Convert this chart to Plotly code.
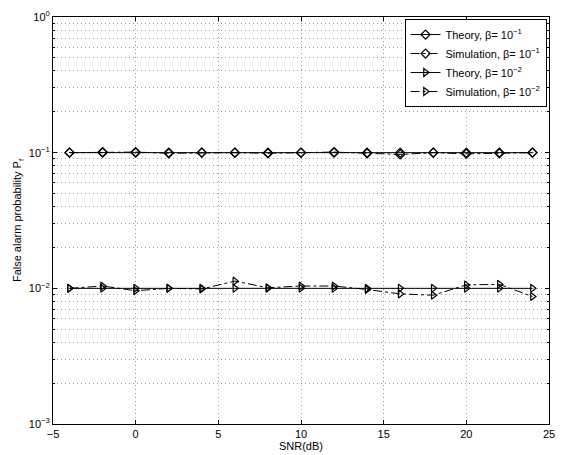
import plotly.graph_objects as go

snr = [-4, -2, 0, 2, 4, 6, 8, 10, 12, 14, 16, 18, 20, 22, 24]
theory_b1 = [0.1] * 15
sim_b1 = [0.100, 0.101, 0.101, 0.099, 0.100, 0.100, 0.099, 0.100, 0.101, 0.099, 0.097, 0.100, 0.098, 0.099, 0.100]
theory_b2 = [0.01] * 15
sim_b2 = [0.0100, 0.0104, 0.0096, 0.0100, 0.0099, 0.0113, 0.0101, 0.0104, 0.0104, 0.0098, 0.0091, 0.0089, 0.0106, 0.0107, 0.0087]

names = ["Theory, β= 10<sup>−1</sup>", "Simulation, β= 10<sup>−1</sup>",
         "Theory, β= 10<sup>−2</sup>", "Simulation, β= 10<sup>−2</sup>"]

fig = go.Figure()
specs = [(theory_b1, "solid", "diamond-open"), (sim_b1, "dashdot", "diamond-open"),
         (theory_b2, "solid", "triangle-right-open"), (sim_b2, "dashdot", "triangle-right-open")]
for (ys, dash, sym), nm in zip(specs, names):
    fig.add_trace(go.Scatter(x=snr, y=ys, name=nm, mode="lines+markers",
                             line=dict(color="black", width=1, dash=dash),
                             marker=dict(symbol=sym, size=7, color="black",
                                         line=dict(color="black", width=1.2))))

font = dict(family="Liberation Sans, Arial, sans-serif", size=11, color="black")
grid_dash = "1px,3px"
fig.update_layout(
    width=578, height=455, paper_bgcolor="white", plot_bgcolor="white",
    margin=dict(l=53, r=29, t=17, b=31),
    font=font,
    showlegend=True,
    legend=dict(x=0.995, y=0.995, xanchor="right", yanchor="top", bgcolor="white",
                bordercolor="black", borderwidth=1, font=dict(size=11),
                tracegroupgap=4, itemwidth=30),
)
fig.update_xaxes(range=[-5, 25], tickvals=[-5, 0, 5, 10, 15, 20, 25],
                 ticktext=["−5", "0", "5", "10", "15", "20", "25"],
                 showline=True, linecolor="black", linewidth=1, mirror="ticks",
                 ticks="inside", ticklen=4, tickcolor="black",
                 showgrid=True, gridcolor="#999999", griddash=grid_dash, gridwidth=1,
                 zeroline=False, automargin=False,
                 title=dict(text="SNR(dB)", standoff=1, font=dict(size=11)))
fig.update_yaxes(type="log", range=[-3, 0], tickvals=[0.001, 0.01, 0.1, 1],
                 ticktext=["10<sup>−3</sup>", "10<sup>−2</sup>", "10<sup>−1</sup>", "10<sup>0</sup>"],
                 showline=True, linecolor="black", linewidth=1, mirror="ticks",
                 ticks="inside", ticklen=4, tickcolor="black",
                 showgrid=True, gridcolor="#999999", griddash=grid_dash, gridwidth=1,
                 zeroline=False, automargin=False,
                 minor=dict(ticks="inside", ticklen=2, tickcolor="black",
                            showgrid=True, gridcolor="#999999", griddash=grid_dash,
                            tickvals=[k * 10 ** e for e in (-3, -2, -1) for k in range(2, 10)]),
                 title=dict(text="False alarm probability P<sub>f</sub>", standoff=4, font=dict(size=11)))

fig.write_html("out.html")
